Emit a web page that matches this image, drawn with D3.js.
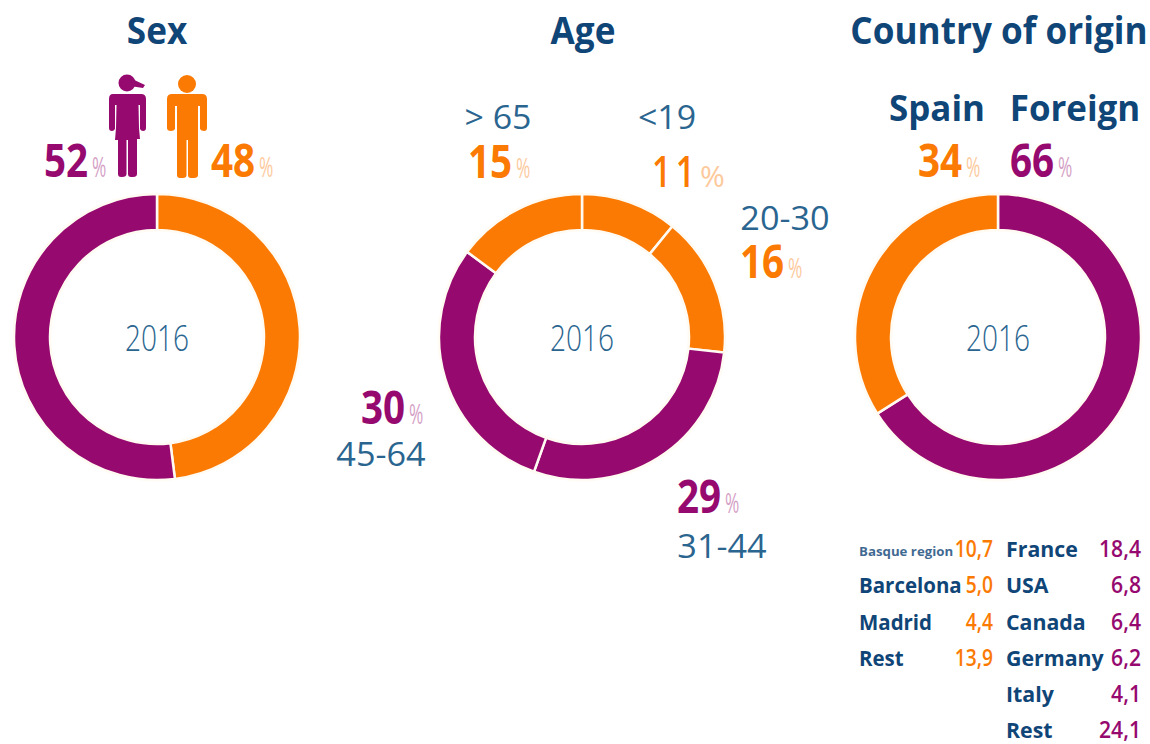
<!DOCTYPE html>
<html><head><meta charset="utf-8">
<script src="https://cdn.jsdelivr.net/npm/d3@7"></script>
<style>html,body{margin:0;background:#fff}svg{display:block}text{font-family:"Open Sans",sans-serif}</style>
</head><body><svg id="c" width="1150" height="744"></svg>
<script>
const sexLabels=["Male","Female"], sexValues=[48,52];
const ageLabels=["<19","20-30","31-44","45-64","> 65"], agePercents=[11,16,29,30,15];
const originLabels=["Foreign","Spain"], originValues=[66,34];
const spainRows=[["Basque region","10,7"],["Barcelona","5,0"],["Madrid","4,4"],["Rest","13,9"]];
const foreignRows=[["France","18,4"],["USA","6,8"],["Canada","6,4"],["Germany","6,2"],["Italy","4,1"],["Rest","24,1"]];
const PURPLE="#960a70",ORANGE="#fb7a04",NAVY="#0f4577",LIGHTBLUE="#2a6590";
const svg=d3.select("#c");
function donut(cx,values,colors){
  const g=svg.append("g").attr("transform",`translate(${cx},337)`);
  const pie=d3.pie().sort(null)(values);
  const arc=d3.arc().innerRadius(107).outerRadius(143);
  g.selectAll("path").data(pie).join("path").attr("d",arc).attr("fill",(d,i)=>colors[i]).attr("stroke","#fffaf2").attr("stroke-width",2.5);
  g.append("text").attr("text-anchor","middle").attr("y",14).attr("font-size",36).attr("font-weight",300).attr("fill",LIGHTBLUE).attr("transform","scale(.78,1)").text("2016");
}
function t(x,y,s,size,fill,w,anchor,sx){
  const sel=svg.append("text").attr("font-size",size).attr("fill",fill).attr("font-weight",w||400).attr("text-anchor",anchor||"start").text(s);
  sel.attr("transform",`translate(${x},${y}) scale(${sx||1},1)`);
  return sel;
}
function pct(x,y,v,fill){
  t(x,y,v,46,fill,700,"start",.84);
  t(x+48,y,"%",28,fill,400,"start",.62).attr("opacity",.4);
}
donut(157,[sexValues[0],sexValues[1]],[ORANGE,PURPLE]);
donut(582,agePercents,[ORANGE,ORANGE,PURPLE,PURPLE,ORANGE]);
donut(998,originValues,[PURPLE,ORANGE]);
t(157,44,"Sex",37,NAVY,700,"middle",.95);
t(583,44,"Age",37,NAVY,700,"middle",.95);
t(999,44,"Country of origin",37,NAVY,700,"middle",.95);
t(937,121,originLabels[1],36,NAVY,700,"middle",.97);
t(1075,121,originLabels[0],36,NAVY,700,"middle",.97);
pct(44,177,sexValues[1],PURPLE);
pct(211,177,sexValues[0],ORANGE);
pct(468,178,agePercents[4],ORANGE);
t(652,187,agePercents[0],44,ORANGE,600,"start",.76).attr("letter-spacing",6);
t(700,187,"%",30,ORANGE,400,"start",1).attr("opacity",.4);
pct(740,278,agePercents[1],ORANGE);
pct(361,424,agePercents[3],PURPLE);
pct(677,513,agePercents[2],PURPLE);
pct(918,177,originValues[1],ORANGE);
pct(1010,177,originValues[0],PURPLE);
t(498,129,ageLabels[4],32,LIGHTBLUE,400,"middle",1.06);
t(667,129,ageLabels[0],32,LIGHTBLUE,400,"middle",1.06);
t(785,230,ageLabels[1],32,LIGHTBLUE,400,"middle",1.07);
t(381,466,ageLabels[3],32,LIGHTBLUE,400,"middle",1.07);
t(722,558,ageLabels[2],32,LIGHTBLUE,400,"middle",1.07);
// icons
const woman=svg.append("g").attr("fill",PURPLE);
woman.append("circle").attr("cx",127).attr("cy",83).attr("r",8.5);
woman.append("path").attr("d","M130 78L145 85L143 88L130 86Z");
woman.append("path").attr("d","M113 94H141Q146 94 146 99V128Q146 131 143 131Q141 131 140 129V105H138.5L139 128L140 139H137V174Q137 177 133 177H131Q128 177 128 174V140H126.500V174Q126.500 177 122 177H121Q118 177 118 174V140H115L116 128L116.500 105H115V129Q114 131 112 131Q109 131 109 128V99Q109 94 113 94Z");
const man=svg.append("g").attr("fill",ORANGE);
man.append("circle").attr("cx",187).attr("cy",84).attr("r",9);
man.append("path").attr("d","M172 94H202Q207 94 207 99V128Q207 131 204 131Q201 131 200 129V106H198V175Q198 178 194 178H191Q188 178 188 175V140H186.500V175Q186.500 178 183 178H180Q177 178 177 175V106H175V129Q174 131 171 131Q167 131 167 128V99Q167 94 172 94Z");
// tables
const ys=[557,593,630,666,702,738];
spainRows.forEach((r,i)=>{
  if(i===0) t(859,556,r[0],13,NAVY,700,"start",1.02).attr("opacity",.8);
  else t(859,ys[i],r[0],22,NAVY,700,"start",.93);
  t(993,ys[i],r[1],24,ORANGE,600,"end",.8);
});
foreignRows.forEach((r,i)=>{
  t(1006,ys[i],r[0],22,NAVY,700,"start",.97);
  t(1141,ys[i],r[1],23,PURPLE,600,"end",.92);
});
</script></body></html>
